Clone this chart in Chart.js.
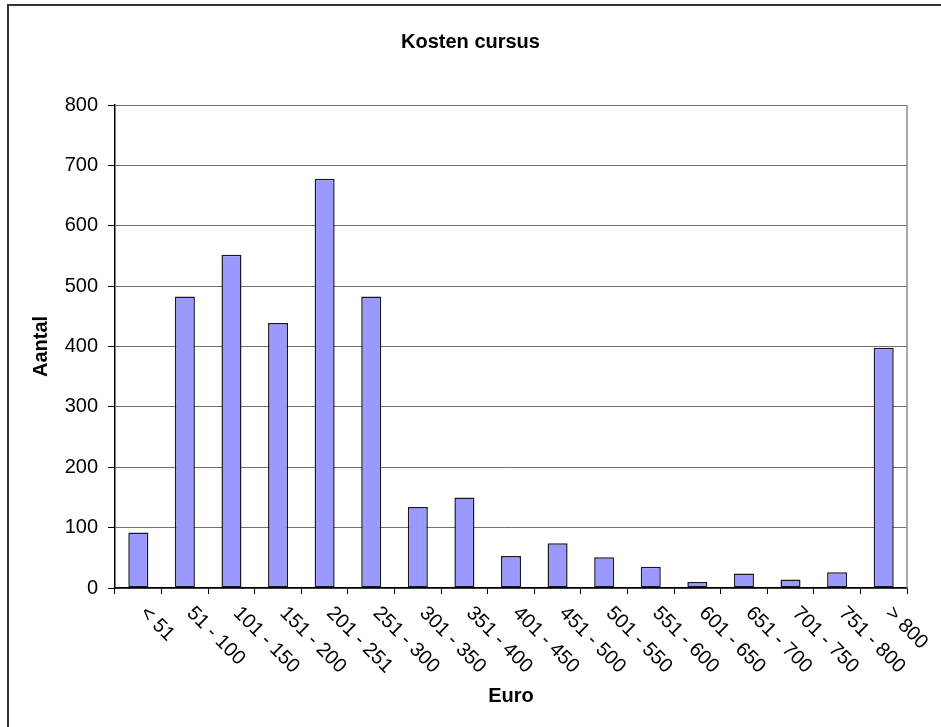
<!DOCTYPE html>
<html>
<head>
<meta charset="utf-8">
<title>Kosten cursus</title>
<script src="https://cdn.jsdelivr.net/npm/chart.js@4.4.1/dist/chart.umd.min.js"></script>
<style>
  html, body { margin: 0; padding: 0; background: #ffffff; }
  canvas { display: block; }
</style>
</head>
<body>
<canvas id="chart" width="941" height="727"></canvas>
<script>
// Price brackets (euro) and the number of courses in each
const categories = ['< 51', '51 - 100', '101 - 150', '151 - 200', '201 - 251', '251 - 300',
  '301 - 350', '351 - 400', '401 - 450', '451 - 500', '501 - 550', '551 - 600',
  '601 - 650', '651 - 700', '701 - 750', '751 - 800', '> 800'];
const counts = [92, 483, 552, 439, 678, 483, 134, 150, 53, 74, 51, 35, 10, 24, 14, 26, 398];
const yTickValues = [0, 100, 200, 300, 400, 500, 600, 700, 800];

const chartTitle = 'Kosten cursus';
const xAxisTitle = 'Euro';
const yAxisTitle = 'Aantal';

const FONT = '"Liberation Sans", Arial, Helvetica, sans-serif';

// Frame, titles, slanted category labels and the plot's right edge
const decorations = {
  id: 'decorations',
  beforeDraw(chart) {
    const ctx = chart.ctx;
    ctx.save();
    ctx.fillStyle = '#ffffff';
    ctx.fillRect(0, 0, chart.width, chart.height);
    ctx.strokeStyle = '#333333';
    ctx.lineWidth = 2;
    ctx.strokeRect(8, 5, chart.width + 40, chart.height + 40);
    ctx.restore();
  },
  afterDraw(chart) {
    const ctx = chart.ctx;
    const a = chart.chartArea;
    const x = chart.scales.x;
    ctx.save();

    ctx.strokeStyle = '#8c8c8c';
    ctx.lineWidth = 1.5;
    ctx.beginPath();
    ctx.moveTo(a.right, a.top);
    ctx.lineTo(a.right, a.bottom);
    ctx.stroke();

    ctx.fillStyle = '#000000';
    ctx.font = 'bold 20px ' + FONT;
    ctx.textAlign = 'center';
    ctx.textBaseline = 'middle';
    ctx.fillText(chartTitle, chart.width / 2, 42);
    ctx.fillText(xAxisTitle, (a.left + a.right) / 2, 696);
    ctx.save();
    ctx.translate(41, (a.top + a.bottom) / 2);
    ctx.rotate(-Math.PI / 2);
    ctx.fillText(yAxisTitle, 0, 0);
    ctx.restore();

    ctx.font = '20px ' + FONT;
    ctx.textAlign = 'left';
    ctx.textBaseline = 'alphabetic';
    categories.forEach((label, i) => {
      const px = x.getPixelForValue(i);
      ctx.save();
      ctx.translate(px + 1, a.bottom + 26);
      ctx.rotate(Math.PI / 4);
      ctx.fillText(label, 0, 0);
      ctx.restore();
    });

    ctx.restore();
  }
};

new Chart(document.getElementById('chart'), {
  type: 'bar',
  data: {
    labels: categories,
    datasets: [{
      label: yAxisTitle,
      data: counts,
      backgroundColor: '#9999ff',
      borderColor: '#1a1a1a',
      borderWidth: 1.5,
      borderSkipped: false,
      barPercentage: 0.43,
      categoryPercentage: 1.0
    }]
  },
  options: {
    responsive: false,
    animation: false,
    devicePixelRatio: 1,
    layout: { padding: { top: 105, right: 34, bottom: 0, left: 0 } },
    plugins: {
      legend: { display: false },
      title: { display: false },
      tooltip: { enabled: false }
    },
    scales: {
      x: {
        offset: true,
        grid: {
          display: true,
          offset: true,
          drawOnChartArea: false,
          drawTicks: true,
          tickLength: 6,
          color: '#000000',
          lineWidth: 1
        },
        border: { display: true, color: '#000000', width: 1.5 },
        ticks: { display: false },
        afterFit(scale) { scale.height = 139; }
      },
      y: {
        min: 0,
        max: 800,
        afterBuildTicks(scale) {
          scale.ticks = yTickValues.map(v => ({ value: v }));
        },
        grid: {
          color: '#707070',
          lineWidth: 1,
          tickLength: 7,
          tickColor: '#000000'
        },
        border: { display: true, color: '#000000', width: 1.5 },
        ticks: {
          color: '#000000',
          font: { family: FONT, size: 20 },
          padding: 10,
          autoSkip: false
        },
        afterFit(scale) { scale.width = 115; }
      }
    }
  },
  plugins: [decorations]
});
</script>
</body>
</html>
